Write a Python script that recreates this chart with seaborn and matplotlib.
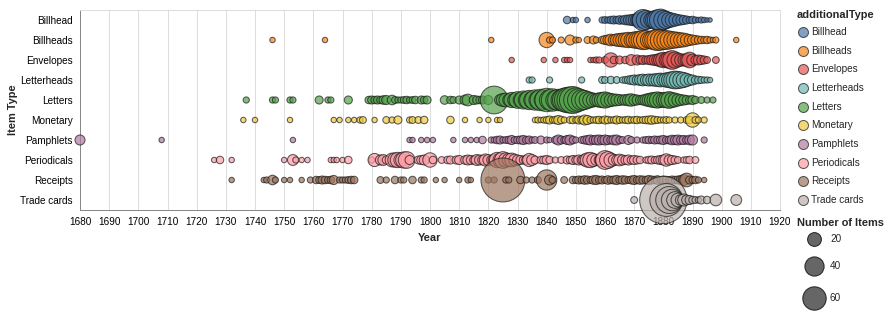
import matplotlib
matplotlib.use("Agg")
import matplotlib.pyplot as plt
import numpy as np
import pandas as pd
import seaborn as sns

# ---------------------------------------------------------------- data
item_types = ["Billhead", "Billheads", "Envelopes", "Letterheads", "Letters",
              "Monetary", "Pamphlets", "Periodicals", "Receipts", "Trade cards"]
type_colors = ["#4c78a8", "#f58518", "#e45756", "#72b7b2", "#54a24b",
               "#eeca3b", "#b279a2", "#ff9da6", "#9d755d", "#bab0ac"]

billhead_years = [1847, 1849, 1850, 1854, 1859, 1860, 1861, 1862, 1863, 1864, 1865, 1866,
                  1867, 1868, 1869, 1870, 1871, 1872, 1873, 1874, 1875, 1876, 1877, 1878,
                  1879, 1880, 1881, 1882, 1883, 1884, 1885, 1886, 1887, 1888, 1889, 1890,
                  1891, 1892, 1893, 1894, 1895, 1896]
billhead_counts = [5, 2, 2, 2, 3, 4, 3, 5, 6, 5, 7, 6,
                   9, 10, 12, 14, 18, 28, 48, 40, 30, 26, 35, 45,
                   52, 40, 32, 24, 20, 16, 12, 10, 8, 6, 4, 5,
                   3, 2, 3, 2, 1, 1]

billheads_years = [1746, 1764, 1821, 1840, 1841, 1842, 1845, 1848, 1850, 1851, 1854, 1856,
                   1857, 1859, 1860, 1861, 1862, 1863, 1864, 1865, 1866, 1867, 1868, 1869,
                   1870, 1871, 1872, 1873, 1874, 1875, 1876, 1877, 1878, 1879, 1880, 1881,
                   1882, 1883, 1884, 1885, 1886, 1887, 1888, 1889, 1890, 1891, 1892, 1893,
                   1894, 1895, 1896, 1897, 1898, 1905]
billheads_counts = [2, 2, 2, 25, 3, 3, 3, 10, 3, 2, 4, 6,
                    3, 5, 8, 10, 14, 12, 16, 18, 20, 22, 25, 22,
                    28, 30, 35, 40, 38, 30, 35, 42, 48, 45, 40, 38,
                    35, 30, 28, 25, 22, 20, 16, 12, 10, 8, 6, 5,
                    4, 5, 3, 2, 3, 2]

envelopes_years = [1828, 1839, 1843, 1846, 1847, 1848, 1855, 1856, 1857, 1858, 1860, 1862,
                   1863, 1865, 1867, 1869, 1871, 1872, 1873, 1874, 1875, 1876, 1877, 1878,
                   1879, 1880, 1881, 1882, 1883, 1884, 1885, 1886, 1887, 1888, 1889, 1890,
                   1891, 1892, 1893, 1894, 1895, 1898]
envelopes_counts = [2, 2, 2, 2, 2, 2, 2, 2, 3, 3, 4, 22,
                    5, 6, 5, 12, 10, 6, 8, 6, 8, 10, 12, 14,
                    20, 25, 22, 30, 38, 28, 20, 16, 14, 18, 26, 14,
                    8, 10, 8, 6, 4, 4]

letterheads_years = [1834, 1835, 1841, 1852, 1859, 1860, 1862, 1864, 1866, 1867, 1868, 1869,
                     1870, 1871, 1872, 1873, 1874, 1875, 1876, 1877, 1878, 1879, 1880, 1881,
                     1882, 1883, 1884, 1885, 1886, 1887, 1888, 1889, 1890, 1891, 1892, 1893,
                     1894, 1895, 1896]
letterheads_counts = [3, 3, 3, 3, 4, 4, 5, 4, 3, 4, 6, 8,
                      10, 9, 12, 14, 12, 15, 14, 16, 18, 20, 18, 22,
                      25, 30, 34, 32, 28, 24, 18, 12, 10, 6, 5, 4,
                      3, 3, 2]

letters_years = [1737, 1746, 1747, 1752, 1753, 1762, 1765, 1766, 1772, 1779, 1780, 1781,
                 1782, 1783, 1784, 1785, 1787, 1788, 1789, 1790, 1791, 1792, 1793, 1794,
                 1795, 1797, 1798, 1799, 1805, 1807, 1808, 1810, 1812, 1813, 1815, 1816,
                 1817, 1818, 1820, 1822, 1824, 1825, 1826, 1827, 1828, 1829, 1830, 1831,
                 1832, 1833, 1834, 1835, 1836, 1837, 1838, 1839, 1840, 1841, 1842, 1843,
                 1844, 1845, 1846, 1847, 1848, 1849, 1850, 1851, 1852, 1853, 1854, 1855,
                 1856, 1857, 1858, 1859, 1860, 1861, 1862, 1863, 1864, 1865, 1866, 1867,
                 1868, 1869, 1870, 1871, 1872, 1873, 1874, 1875, 1876, 1877, 1878, 1879,
                 1880, 1881, 1882, 1883, 1884, 1885, 1886, 1887, 1888, 1889, 1890, 1891,
                 1893, 1895, 1897]
letters_counts = [3, 3, 3, 3, 3, 6, 3, 3, 6, 5, 6, 5,
                  6, 5, 7, 8, 9, 4, 3, 3, 4, 5, 3, 4,
                  5, 6, 5, 6, 7, 5, 4, 6, 10, 14, 8, 6,
                  5, 6, 8, 85, 12, 18, 20, 15, 25, 20, 30, 22,
                  35, 28, 40, 30, 45, 35, 50, 40, 60, 45, 55, 40,
                  50, 45, 60, 70, 75, 80, 65, 55, 45, 40, 30, 25,
                  20, 18, 22, 25, 28, 22, 18, 15, 14, 12, 10, 12,
                  14, 16, 12, 10, 8, 10, 14, 18, 22, 25, 28, 24,
                  22, 26, 30, 24, 20, 15, 12, 10, 8, 6, 8, 5,
                  4, 3, 3]

monetary_years = [1736, 1740, 1752, 1767, 1769, 1772, 1774, 1776, 1777, 1781, 1785, 1787,
                  1789, 1793, 1794, 1796, 1798, 1807, 1812, 1817, 1820, 1823, 1824, 1836,
                  1837, 1838, 1839, 1840, 1841, 1842, 1843, 1844, 1845, 1846, 1848, 1849,
                  1850, 1851, 1852, 1853, 1854, 1855, 1856, 1857, 1858, 1859, 1860, 1861,
                  1862, 1863, 1864, 1865, 1866, 1867, 1868, 1869, 1870, 1871, 1872, 1873,
                  1874, 1875, 1876, 1877, 1878, 1879, 1880, 1881, 1882, 1884, 1886, 1888,
                  1889, 1890, 1891, 1892, 1894]
monetary_counts = [2, 2, 2, 2, 2, 2, 2, 3, 4, 2, 4, 3,
                   6, 3, 4, 4, 5, 5, 2, 2, 2, 2, 2, 2,
                   3, 2, 3, 4, 6, 3, 5, 8, 5, 3, 4, 5,
                   3, 6, 5, 10, 8, 4, 3, 4, 5, 3, 6, 5,
                   3, 4, 6, 4, 3, 4, 5, 3, 4, 5, 3, 4,
                   5, 6, 7, 5, 4, 3, 3, 4, 3, 3, 3, 4,
                   5, 22, 4, 3, 3]

pamphlets_years = [1680, 1708, 1753, 1793, 1794, 1797, 1799, 1801, 1808, 1812, 1814, 1816,
                   1818, 1821, 1822, 1823, 1824, 1825, 1826, 1827, 1828, 1829, 1830, 1831,
                   1832, 1833, 1834, 1835, 1836, 1838, 1840, 1841, 1843, 1844, 1845, 1846,
                   1847, 1848, 1849, 1850, 1852, 1853, 1854, 1855, 1856, 1857, 1858, 1859,
                   1860, 1861, 1862, 1863, 1864, 1865, 1866, 1868, 1869, 1871, 1873, 1874,
                   1875, 1876, 1877, 1878, 1879, 1880, 1881, 1882, 1883, 1884, 1885, 1886,
                   1887, 1888, 1889, 1890, 1894]
pamphlets_counts = [10, 2, 2, 2, 2, 2, 2, 2, 2, 2, 2, 2,
                    5, 3, 3, 5, 6, 3, 4, 5, 8, 4, 5, 6,
                    8, 5, 6, 3, 4, 6, 3, 2, 5, 10, 6, 4,
                    8, 10, 5, 3, 4, 6, 8, 10, 7, 9, 10, 8,
                    10, 8, 6, 9, 10, 5, 4, 8, 4, 3, 3, 4,
                    5, 4, 6, 5, 6, 8, 5, 6, 9, 8, 10, 7,
                    8, 6, 9, 10, 3]

periodicals_years = [1726, 1728, 1732, 1750, 1753, 1754, 1756, 1758, 1766, 1767, 1768, 1770,
                     1772, 1780, 1781, 1783, 1784, 1785, 1787, 1788, 1789, 1790, 1791, 1792,
                     1793, 1796, 1797, 1798, 1800, 1801, 1804, 1806, 1807, 1809, 1810, 1812,
                     1813, 1814, 1815, 1816, 1817, 1818, 1819, 1820, 1821, 1822, 1823, 1824,
                     1825, 1826, 1827, 1828, 1829, 1830, 1831, 1832, 1833, 1834, 1835, 1836,
                     1838, 1839, 1840, 1841, 1843, 1845, 1847, 1848, 1849, 1850, 1851, 1852,
                     1853, 1854, 1855, 1856, 1857, 1858, 1859, 1860, 1861, 1862, 1863, 1864,
                     1865, 1866, 1867, 1868, 1869, 1870, 1871, 1872, 1874, 1875, 1876, 1877,
                     1878, 1879, 1880, 1881, 1882, 1883, 1884, 1885, 1887, 1888, 1889, 1891]
periodicals_counts = [2, 5, 2, 2, 12, 3, 2, 2, 2, 2, 2, 2,
                      5, 3, 18, 10, 12, 6, 20, 22, 25, 20, 28, 30,
                      8, 6, 8, 10, 22, 5, 4, 5, 6, 6, 8, 7,
                      10, 8, 6, 12, 10, 9, 15, 12, 8, 14, 25, 20,
                      30, 22, 18, 20, 14, 10, 8, 6, 8, 18, 12, 6,
                      5, 6, 8, 5, 3, 4, 6, 5, 8, 6, 10, 8,
                      14, 22, 25, 18, 12, 10, 20, 38, 30, 20, 12, 10,
                      14, 10, 8, 10, 6, 8, 6, 5, 3, 5, 6, 4,
                      6, 8, 10, 16, 10, 8, 6, 4, 3, 4, 5, 4]

receipts_years = [1732, 1743, 1744, 1746, 1747, 1750, 1752, 1756, 1759, 1761, 1762, 1763,
                  1764, 1765, 1766, 1767, 1769, 1770, 1771, 1772, 1773, 1774, 1783, 1785,
                  1788, 1790, 1791, 1794, 1797, 1798, 1802, 1805, 1810, 1813, 1814, 1820,
                  1822, 1825, 1826, 1827, 1831, 1833, 1835, 1837, 1840, 1841, 1842, 1846,
                  1849, 1850, 1851, 1852, 1853, 1854, 1855, 1856, 1857, 1858, 1859, 1860,
                  1861, 1862, 1863, 1864, 1865, 1866, 1867, 1868, 1869, 1870, 1871, 1872,
                  1873, 1874, 1875, 1876, 1877, 1878, 1879, 1880, 1881, 1882, 1883, 1884,
                  1885, 1886, 1887, 1888, 1889, 1890, 1891, 1892, 1894]
receipts_counts = [2, 2, 3, 9, 3, 2, 2, 2, 3, 5, 4, 6,
                   5, 4, 5, 8, 3, 3, 3, 4, 5, 5, 4, 3,
                   5, 3, 3, 5, 3, 3, 2, 2, 2, 3, 2, 3,
                   3, 215, 3, 3, 5, 3, 3, 4, 45, 10, 4, 4,
                   5, 4, 6, 5, 7, 6, 4, 7, 8, 5, 6, 4,
                   7, 5, 6, 8, 5, 7, 6, 4, 6, 8, 5, 7,
                   6, 5, 8, 6, 5, 7, 4, 6, 5, 4, 6, 5,
                   6, 8, 12, 20, 6, 4, 5, 3, 2]

trade_cards_years = [1870, 1880, 1881, 1882, 1883, 1884, 1885, 1886, 1887, 1888, 1889, 1890,
                     1891, 1892, 1893, 1895, 1898, 1905]
trade_cards_counts = [4, 250, 120, 80, 50, 30, 20, 12, 15, 10, 8, 5,
                      4, 3, 6, 5, 14, 12]

size_legend_values = [20, 40, 60]

series = {
    "Billhead": (billhead_years, billhead_counts),
    "Billheads": (billheads_years, billheads_counts),
    "Envelopes": (envelopes_years, envelopes_counts),
    "Letterheads": (letterheads_years, letterheads_counts),
    "Letters": (letters_years, letters_counts),
    "Monetary": (monetary_years, monetary_counts),
    "Pamphlets": (pamphlets_years, pamphlets_counts),
    "Periodicals": (periodicals_years, periodicals_counts),
    "Receipts": (receipts_years, receipts_counts),
    "Trade cards": (trade_cards_years, trade_cards_counts),
}
records = []
for name in item_types:
    yrs, cnts = series[name]
    for yr, c in zip(yrs, cnts):
        records.append({"additionalType": name, "year": yr, "count": c})
df = pd.DataFrame(records)

# ---------------------------------------------------------------- style
sns.set_style("white")
plt.rcParams["font.family"] = ["Liberation Sans", "DejaVu Sans"]
PX = 72 / 100  # points per pixel at dpi 100

# marker area: 9 px^2 floor plus 7 px^2 per item, converted to scatter "s" (pt^2)
def area_to_s(area_px):
    return (4 * area_px / np.pi) * PX ** 2

vmax = df["count"].max()
s_min = area_to_s(9)
s_max = area_to_s(9 + 7.0 * vmax)
EDGE = "#1a1a1a"
EDGE_W = 0.75

W, H = 890, 321
fig = plt.figure(figsize=(W / 100, H / 100), dpi=100)
left, right, top, bottom = 80, 780, 10, 210
ax = fig.add_axes([left / W, 1 - bottom / H, (right - left) / W, (bottom - top) / H])

palette = dict(zip(item_types, type_colors))
sns.scatterplot(data=df, x="year", y="additionalType", hue="additionalType",
                palette=palette, size="count", sizes=(s_min, s_max),
                size_norm=(0, vmax), alpha=0.7, edgecolor=EDGE,
                linewidth=EDGE_W, legend=False, ax=ax, zorder=3, clip_on=False)

ax.set_xlim(1680, 1920)
ax.set_ylim(len(item_types) - 0.5, -0.5)
ax.set_xticks(np.arange(1680, 1921, 10))
ax.set_xticklabels([str(v) for v in range(1680, 1921, 10)])
ax.set_yticks(range(len(item_types)))
ax.set_yticklabels(item_types)
ax.grid(axis="x", color="#dddddd", linewidth=1 * PX, zorder=0)
ax.grid(axis="y", visible=False)
ax.set_axisbelow(True)
for side in ["top", "right"]:
    ax.spines[side].set_color("#dddddd")
    ax.spines[side].set_linewidth(1 * PX)
for side in ["left", "bottom"]:
    ax.spines[side].set_color("#888888")
    ax.spines[side].set_linewidth(1 * PX)
ax.tick_params(axis="both", length=5 * PX, width=1 * PX, color="#888888",
               labelsize=10 * PX, labelcolor="#000000", pad=2 * PX)
ax.set_xlabel("Year", fontsize=11 * PX, fontweight="bold", labelpad=6 * PX)
ax.set_ylabel("Item Type", fontsize=11 * PX, fontweight="bold", labelpad=2 * PX)

# ---------------------------------------------------------------- legends
lax = fig.add_axes([0, 0, 1, 1])
lax.set_xlim(0, W)
lax.set_ylim(H, 0)
lax.axis("off")

lax.text(797, 15, "additionalType", fontsize=11 * PX, fontweight="bold",
         ha="left", va="center")
for i, (name, col) in enumerate(zip(item_types, type_colors)):
    yy = 32 + 18.65 * i
    lax.scatter([803], [yy], s=(10 * PX) ** 2, color=col, alpha=0.7,
                edgecolor=EDGE, linewidth=EDGE_W)
    lax.text(811, yy, name, fontsize=10 * PX, ha="left", va="center")

lax.text(797, 223, "Number of Items", fontsize=11 * PX, fontweight="bold",
         ha="left", va="center")
for val, yy in zip(size_legend_values, [239, 266, 298]):
    s = s_min + (s_max - s_min) * val / vmax
    lax.scatter([814], [yy], s=s, color="#555555", alpha=0.9,
                edgecolor=EDGE, linewidth=EDGE_W)
    lax.text(830, yy, str(val), fontsize=10 * PX, ha="left", va="center")

fig.savefig("out.png", dpi=100)
